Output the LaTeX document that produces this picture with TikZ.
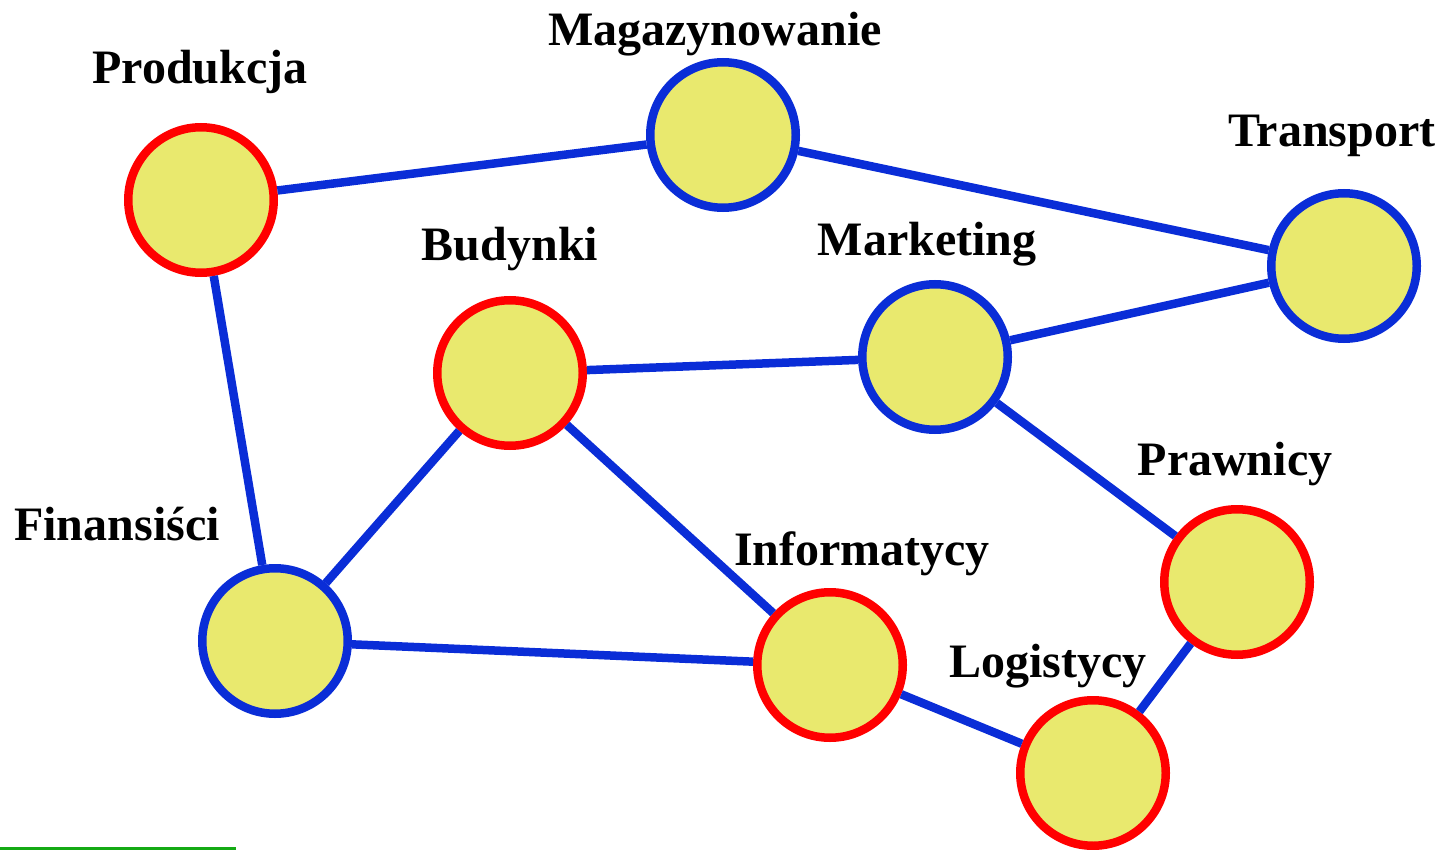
\documentclass[tikz,border=0pt]{standalone}
\usepackage{fontspec}
\setmainfont{Liberation Serif}
\definecolor{fillyellow}{RGB}{233,233,110}
\definecolor{edgeblue}{RGB}{10,45,215}
\definecolor{ringred}{RGB}{255,0,0}
\definecolor{rulegreen}{RGB}{20,170,20}

\begin{document}
\begin{tikzpicture}[x=1pt, y=-1pt, dept/.style={circle, draw=edgeblue, fill=fillyellow, line width=8.5pt, minimum size=145.5pt, inner sep=0pt}, deptred/.style={dept, draw=ringred}, deptlabel/.style={font=\fontsize{48}{56}\selectfont\bfseries, inner sep=0pt}, link/.style={draw=edgeblue, line width=8.5pt}]
  {
  \useasboundingbox (0,0) rectangle (1445,850);

  \node[deptred] (prod) at (201,200) {};
  \node[dept] (mag) at (723,135) {};
  \node[dept] (trans) at (1344,266) {};
  \node[deptred] (bud) at (510,373) {};
  \node[dept] (mark) at (935,357) {};
  \node[dept] (fin) at (275,641) {};
  \node[deptred] (inf) at (830,665) {};
  \node[deptred] (praw) at (1237,582) {};
  \node[deptred] (log) at (1093,773) {};

  \node[deptlabel] (prod-l) at (200,72) {Produkcja};
  \node[deptlabel] (mag-l) at (715,34) {Magazynowanie};
  \node[deptlabel] (trans-l) at (1332,136) {Transport};
  \node[deptlabel] (bud-l) at (510,249) {Budynki};
  \node[deptlabel] (mark-l) at (927,244) {Marketing};
  \node[deptlabel] (fin-l) at (117,524) {Finansiści};
  \node[deptlabel] (inf-l) at (862,554) {Informatycy};
  \node[deptlabel] (praw-l) at (1235,464) {Prawnicy};
  \node[deptlabel] (log-l) at (1048,666) {Logistycy};

  \path[link] (prod) -- (mag);
  \path[link] (mag) -- (trans);
  \path[link] (trans) -- (mark);
  \path[link] (mark) -- (bud);
  \path[link] (mark) -- (praw);
  \path[link] (prod) -- (fin);
  \path[link] (bud) -- (fin);
  \path[link] (bud) -- (inf);
  \path[link] (fin) -- (inf);
  \path[link] (inf) -- (log);
  \path[link] (log) -- (praw);

  \coordinate (rule-a) at (0,848);
  \coordinate (rule-b) at (236,848);
  \draw[rulegreen, line width=3pt] (rule-a) -- (rule-b);
}
\end{tikzpicture}
\end{document}
